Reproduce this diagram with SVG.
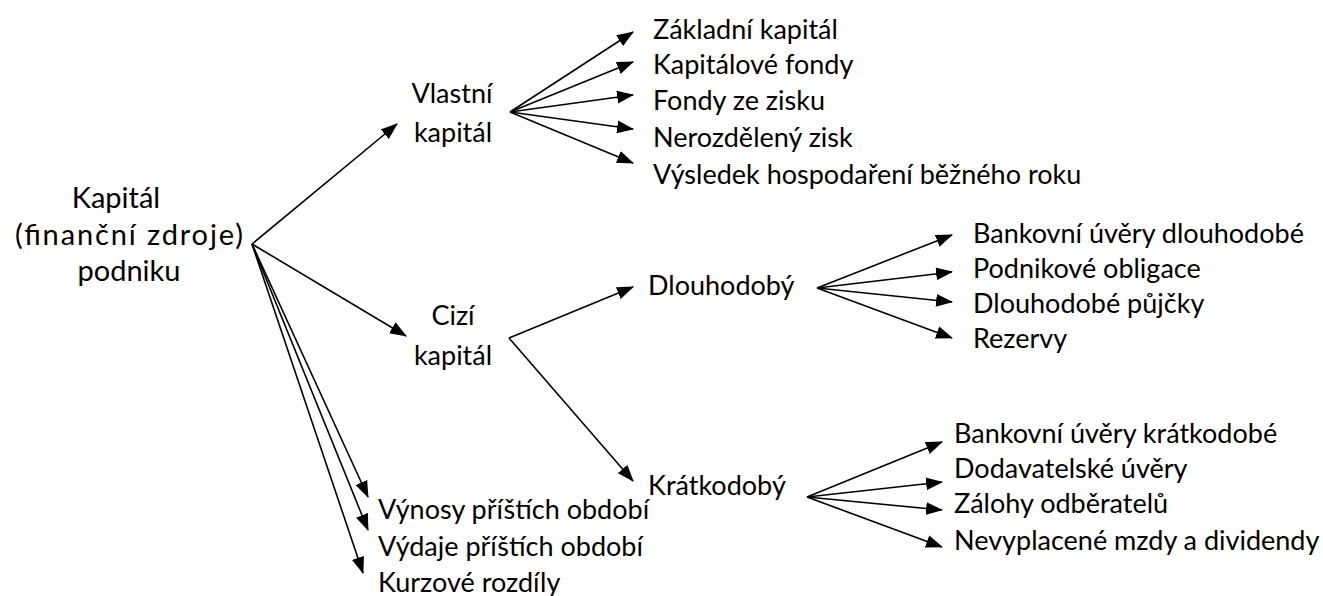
<svg xmlns="http://www.w3.org/2000/svg" width="1323" height="596" viewBox="0 0 1323 596">
<style>
text { font-family: Lato, "Open Sans", "Liberation Sans", sans-serif; font-size: 27px; fill: #000; }
.m { text-anchor: middle; }
.r { font-size: 29px; }
.c line { stroke: #000; stroke-width: 1.6; marker-end: url(#ah); }
</style>
<defs>
<marker id="ah" viewBox="0 0 16 12" refX="15" refY="6" markerWidth="17" markerHeight="13" markerUnits="userSpaceOnUse" orient="auto">
<path d="M0,0 L16,6 L0,12 z" fill="#000"/>
</marker>
</defs>
<rect width="1323" height="596" fill="#fff"/>
<g class="c" id="connectors">
<line x1="252" y1="244" x2="397" y2="124"/>
<line x1="252" y1="244" x2="406" y2="336"/>
<line x1="252" y1="244" x2="368" y2="497"/>
<line x1="252" y1="244" x2="368" y2="530"/>
<line x1="252" y1="244" x2="363" y2="573"/>
<line x1="510" y1="112" x2="633" y2="32"/>
<line x1="510" y1="112" x2="633" y2="62"/>
<line x1="510" y1="112" x2="633" y2="95"/>
<line x1="510" y1="112" x2="633" y2="129"/>
<line x1="510" y1="112" x2="633" y2="163"/>
<line x1="509" y1="338" x2="633" y2="287"/>
<line x1="509" y1="338" x2="633" y2="481"/>
<line x1="817" y1="288" x2="952" y2="235"/>
<line x1="817" y1="288" x2="952" y2="272"/>
<line x1="817" y1="288" x2="952" y2="302"/>
<line x1="817" y1="288" x2="952" y2="338"/>
<line x1="807" y1="497" x2="942" y2="442"/>
<line x1="807" y1="497" x2="942" y2="482"/>
<line x1="807" y1="497" x2="942" y2="510"/>
<line x1="807" y1="497" x2="942" y2="547"/>
</g>
<g id="root">
<text class="m r" x="116" y="208">Kapitál</text>
<text class="m r" x="129" y="245" textLength="228" lengthAdjust="spacing">(finanční zdroje)</text>
<text class="m r" x="129" y="281">podniku</text>
</g>
<g id="vlastni">
<text class="m" x="452" y="103">Vlastní</text>
<text class="m" x="453" y="142">kapitál</text>
</g>
<g id="cizi">
<text class="m" x="453" y="325">Cizí</text>
<text class="m" x="453" y="365">kapitál</text>
</g>
<g id="dlouhodoby"><text x="648" y="295">Dlouhodobý</text></g>
<g id="kratkodoby"><text x="648" y="495">Krátkodobý</text></g>
<g id="vk-items">
<text x="653" y="39">Základní kapitál</text>
<text x="653" y="74">Kapitálové fondy</text>
<text x="653" y="110">Fondy ze zisku</text>
<text x="653" y="147">Nerozdělený zisk</text>
<text x="653" y="184">Výsledek hospodaření běžného roku</text>
</g>
<g id="dl-items">
<text x="973" y="243">Bankovní úvěry dlouhodobé</text>
<text x="973" y="278">Podnikové obligace</text>
<text x="973" y="313">Dlouhodobé půjčky</text>
<text x="973" y="348">Rezervy</text>
</g>
<g id="kr-items">
<text x="954" y="443">Bankovní úvěry krátkodobé</text>
<text x="954" y="478">Dodavatelské úvěry</text>
<text x="954" y="513">Zálohy odběratelů</text>
<text x="954" y="550">Nevyplacené mzdy a dividendy</text>
</g>
<g id="ostatni">
<text x="378" y="519">Výnosy příštích období</text>
<text x="378" y="556">Výdaje příštích období</text>
<text x="378" y="592">Kurzové rozdíly</text>
</g>
</svg>
